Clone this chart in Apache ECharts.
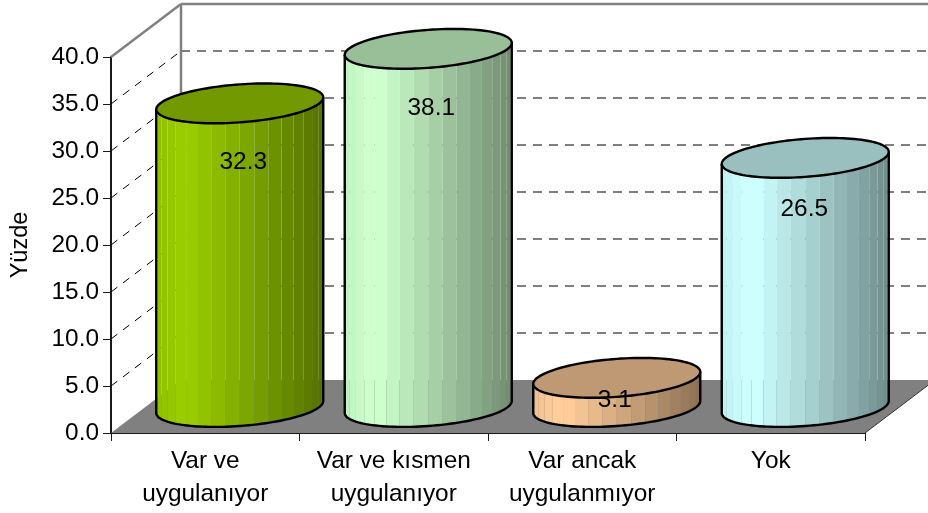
<!DOCTYPE html>
<html>
<head>
<meta charset="utf-8">
<style>
  html, body { margin: 0; padding: 0; background: #fff; }
  #chart { width: 928px; height: 513px; }
</style>
<script src="https://cdn.jsdelivr.net/npm/echarts@6/dist/echarts.min.js"></script>
</head>
<body>
<div id="chart"></div>
<script>
const categories = ['Var ve\nuygulanıyor', 'Var ve kısmen\nuygulanıyor', 'Var ancak\nuygulanmıyor', 'Yok'];
const values = [32.3, 38.1, 3.1, 26.5];
const yTicks = [0, 5, 10, 15, 20, 25, 30, 35, 40];

const barColors = [[153, 204, 0], [204, 255, 204], [255, 204, 153], [204, 255, 255]];
// label offset from the top of each cylinder, the original has them placed by hand
const labelOffsets = [[3.5, 59], [3, 59], [-2, 22], [-1, 51]];

const FONT = '"Liberation Sans", Arial, sans-serif';
const DEPTH_X = 70, DEPTH_Y = 53;
const LEFT = 111, TOP = 57, W = 754, H = 376;
const STRIPS = 18;

function rgb(c, f) {
  return 'rgb(' + c.map(v => Math.min(255, Math.round(v * f))).join(',') + ')';
}

// brightness across the cylinder, u is 0 at the left edge, 1 at the right
function shade(u) {
  return u < 0.18 ? 0.94 + u / 0.18 * 0.08 : 1.02 - (u - 0.18) / 0.82 * 0.47;
}

function renderFloor(params, api) {
  const c = params.coordSys;
  const x0 = c.x, y0 = c.y + c.height, x1 = c.x + c.width;
  return {
    type: 'group',
    silent: true,
    children: [
      {
        type: 'polygon',
        shape: { points: [[x0, y0], [x0 + DEPTH_X, y0 - DEPTH_Y], [x1 + DEPTH_X, y0 - DEPTH_Y], [x1, y0]] },
        style: { fill: '#808080' }
      },
      {
        type: 'line',
        shape: { x1: x1, y1: y0, x2: x1 + DEPTH_X, y2: y0 - DEPTH_Y },
        style: { stroke: '#333', lineWidth: 1, fill: null }
      }
    ]
  };
}

function renderWall(params, api) {
  const c = params.coordSys;
  const y = api.coord([0, api.value(0)])[1];
  const x0 = c.x, bx = c.x + DEPTH_X, by = y - DEPTH_Y, rx = c.x + c.width + DEPTH_X;
  const isTop = api.value(0) === 40, isZero = api.value(0) === 0;
  const children = [];
  if (isTop) {
    const grey = { stroke: '#808080', lineWidth: 2.5, fill: null };
    children.push({ type: 'line', shape: { x1: x0, y1: y, x2: bx, y2: by }, style: grey });
    children.push({ type: 'line', shape: { x1: bx, y1: by, x2: rx, y2: by }, style: grey });
    children.push({ type: 'line', shape: { x1: bx, y1: by, x2: bx, y2: c.y + c.height - DEPTH_Y }, style: grey });
  } else if (!isZero) {
    children.push({ type: 'line', shape: { x1: x0, y1: y, x2: bx, y2: by },
      style: { stroke: '#000', lineWidth: 1, lineDash: [8, 7], fill: null } });
    children.push({ type: 'line', shape: { x1: bx, y1: by, x2: rx, y2: by },
      style: { stroke: '#555', lineWidth: 1.3, lineDash: [9, 7], fill: null } });
  }
  return { type: 'group', silent: true, children: children };
}

function renderCylinder(params, api) {
  const i = api.value(0), v = api.value(1);
  const base = api.coord([i, 0]), top = api.coord([i, v]);
  const a = api.size([1, 0])[0] * 0.443, b = 19, tilt = 6;
  const cx = base[0], cb = base[1], ct = top[1];
  const col = barColors[i];
  const ring = (cy, t) => [cx + a * Math.cos(t), cy - tilt * Math.cos(t) + b * Math.sin(t)];
  const children = [];

  // body is built from flat strips, the seams between them let the background through a little
  for (let k = 0; k < STRIPS; k++) {
    const t0 = Math.PI - Math.PI * k / STRIPS, t1 = Math.PI - Math.PI * (k + 1) / STRIPS;
    const u = (Math.cos((t0 + t1) / 2) + 1) / 2;
    children.push({
      type: 'polygon',
      shape: { points: [ring(ct, t0), ring(ct, t1), ring(cb, t1), ring(cb, t0)] },
      style: { fill: rgb(col, shade(u)) }
    });
  }

  const lower = [];
  const whole = [];
  for (let k = 0; k <= 60; k++) {
    lower.push(ring(cb, Math.PI - Math.PI * k / 60));
  }
  for (let k = 0; k < 120; k++) {
    whole.push(ring(ct, Math.PI * 2 * k / 120));
  }
  children.push({
    type: 'polyline',
    shape: { points: [ring(ct, Math.PI)].concat(lower, [ring(ct, 0)]) },
    style: { stroke: '#000', lineWidth: 2.4, fill: null }
  });
  children.push({
    type: 'polygon',
    shape: { points: whole },
    style: { fill: rgb(col, 0.75), stroke: '#000', lineWidth: 2.4 }
  });
  children.push({
    type: 'text',
    style: {
      x: cx + labelOffsets[i][0],
      y: ct + labelOffsets[i][1],
      text: v.toFixed(1),
      font: '24.4px ' + FONT,
      fill: '#000',
      align: 'center',
      verticalAlign: 'middle'
    }
  });
  return { type: 'group', silent: true, children: children };
}

const chart = echarts.init(document.getElementById('chart'), null, { renderer: 'canvas' });
chart.setOption({
  animation: false,
  backgroundColor: '#fff',
  textStyle: { fontFamily: FONT },
  grid: [
    { left: LEFT, top: TOP, width: W, height: H, outerBoundsMode: 'none' },
    { left: LEFT + DEPTH_X / 2 - 0.5, top: TOP - DEPTH_Y / 2 + 0.5, width: W, height: H, outerBoundsMode: 'none' }
  ],
  xAxis: [
    {
      type: 'category',
      gridIndex: 0,
      data: categories,
      axisLine: { lineStyle: { color: '#1a1a1a', width: 2 } },
      axisTick: { show: true, alignWithLabel: false, length: 8, lineStyle: { color: '#1a1a1a', width: 1 } },
      axisLabel: { interval: 0, color: '#000', fontSize: 24.4, lineHeight: 33, margin: 12, fontFamily: FONT }
    },
    { type: 'category', gridIndex: 1, data: categories, show: false }
  ],
  yAxis: [
    {
      type: 'value',
      gridIndex: 0,
      min: 0,
      max: 40,
      interval: 5,
      name: 'Yüzde',
      nameLocation: 'middle',
      nameGap: 78,
      nameTextStyle: { fontSize: 23.5, color: '#000', fontFamily: FONT },
      axisLine: { show: true, lineStyle: { color: '#1a1a1a', width: 2 } },
      axisTick: { show: true, length: 8, lineStyle: { color: '#1a1a1a', width: 1 } },
      axisLabel: { color: '#000', fontSize: 24.4, margin: 12, fontFamily: FONT, formatter: v => v.toFixed(1) },
      splitLine: { show: false }
    },
    { type: 'value', gridIndex: 1, min: 0, max: 40, interval: 5, show: false, splitLine: { show: false } }
  ],
  series: [
    { type: 'custom', xAxisIndex: 0, yAxisIndex: 0, z: 1, data: [0], renderItem: renderFloor, clip: false },
    { type: 'custom', xAxisIndex: 0, yAxisIndex: 0, z: 2, data: yTicks.map(v => [v]), encode: { y: 0 }, renderItem: renderWall, clip: false },
    {
      type: 'custom',
      xAxisIndex: 1,
      yAxisIndex: 1,
      z: 3,
      data: values.map((v, i) => [i, v]),
      encode: { x: 0, y: 1 },
      renderItem: renderCylinder,
      clip: false
    }
  ]
});
</script>
</body>
</html>
